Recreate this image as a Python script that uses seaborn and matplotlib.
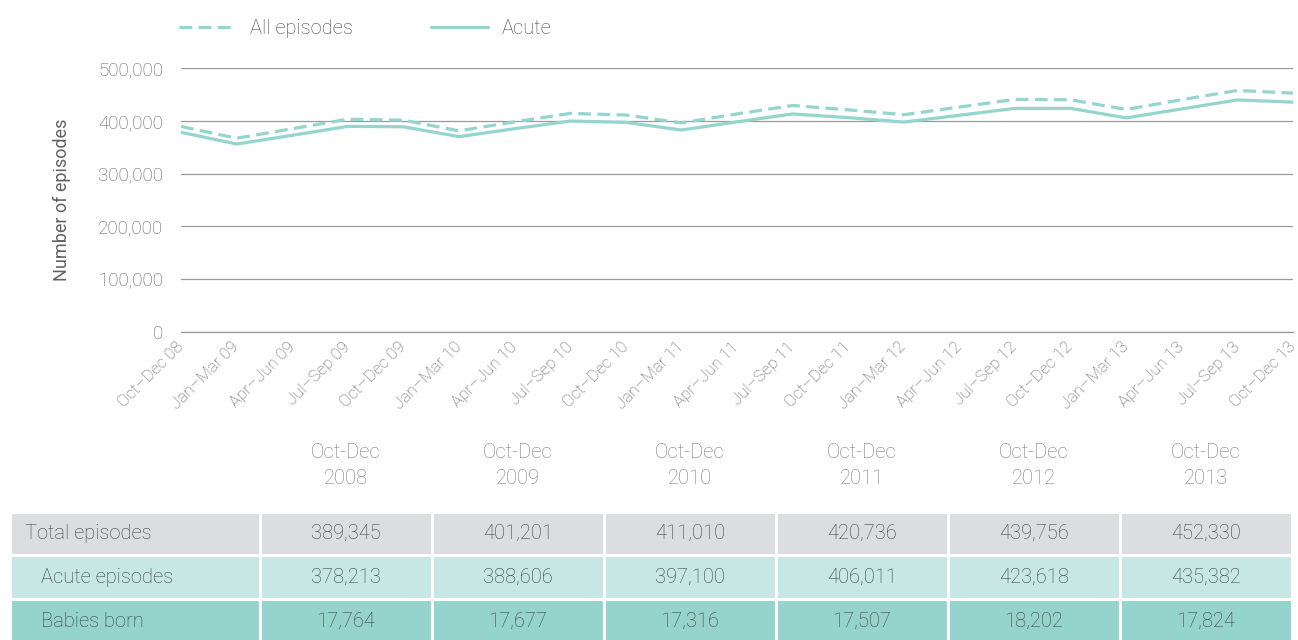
import numpy as np
import pandas as pd
import matplotlib
matplotlib.use('Agg')
import matplotlib.pyplot as plt
import seaborn as sns
from matplotlib.ticker import StrMethodFormatter

quarters = ['Oct–Dec 08', 'Jan–Mar 09', 'Apr–Jun 09', 'Jul–Sep 09', 'Oct–Dec 09',
            'Jan–Mar 10', 'Apr–Jun 10', 'Jul–Sep 10', 'Oct–Dec 10',
            'Jan–Mar 11', 'Apr–Jun 11', 'Jul–Sep 11', 'Oct–Dec 11',
            'Jan–Mar 12', 'Apr–Jun 12', 'Jul–Sep 12', 'Oct–Dec 12',
            'Jan–Mar 13', 'Apr–Jun 13', 'Jul–Sep 13', 'Oct–Dec 13']
all_episodes = [389345, 367000, 385000, 403000, 401201, 381000, 398000, 414000, 411010,
                396000, 413000, 429000, 420736, 411500, 426000, 440500, 439756,
                421500, 440000, 457500, 452330]
acute = [378213, 356000, 372500, 389500, 388606, 370000, 385000, 399500, 397100,
         382500, 398000, 413000, 406011, 397500, 410500, 423500, 423618,
         405500, 422500, 439500, 435382]

# table under the chart
table_periods = ['Oct-Dec\n2008', 'Oct-Dec\n2009', 'Oct-Dec\n2010',
                 'Oct-Dec\n2011', 'Oct-Dec\n2012', 'Oct-Dec\n2013']
row_names = ['Total episodes', 'Acute episodes', 'Babies born']
total_eps = [389345, 401201, 411010, 420736, 439756, 452330]
acute_eps = [378213, 388606, 397100, 406011, 423618, 435382]
babies = [17764, 17677, 17316, 17507, 18202, 17824]

line_col = '#94d5cd'
row_colors = ['#dcdddf', '#c6e7e3', '#94d4cd']

sns.set_style('white')
plt.rcParams['font.family'] = ['Roboto', 'DejaVu Sans']
plt.rcParams['font.weight'] = 'light'

df = pd.DataFrame({
    'quarter': quarters * 2,
    'episodes': all_episodes + acute,
    'series': ['All episodes'] * len(quarters) + ['Acute'] * len(quarters),
})

fig = plt.figure(figsize=(12.98, 6.4), dpi=100)
ax = fig.add_axes([181/1298, 1 - 332/640, 1112/1298, 264/640])

sns.lineplot(data=df, x='quarter', y='episodes', hue='series', style='series',
             hue_order=['All episodes', 'Acute'], style_order=['All episodes', 'Acute'],
             palette=[line_col, line_col], dashes={'All episodes': (4, 2), 'Acute': ''},
             linewidth=2.3, sort=False, ax=ax)

ax.set_xlim(0, len(quarters) - 1)
ax.set_ylim(0, 500000)
ax.set_yticks(range(0, 500001, 100000))
ax.yaxis.set_major_formatter(StrMethodFormatter('{x:,.0f}'))
ax.grid(axis='y', color='#9a9a9a', linewidth=0.9)
ax.set_axisbelow(True)
for s in ['top', 'right', 'left']:
    ax.spines[s].set_visible(False)
ax.spines['bottom'].set_color('#9a9a9a')
ax.spines['bottom'].set_linewidth(0.9)
ax.tick_params(axis='y', length=0, pad=13, labelsize=13.5, labelcolor='#606060')
ax.tick_params(axis='x', direction='in', length=11, width=0.9, color='#9a9a9a',
               pad=9, labelsize=12, labelcolor='#606060')
plt.setp(ax.get_xticklabels(), rotation=45, ha='right', va='center', rotation_mode='anchor')
ax.set_xlabel('')
ax.set_ylabel('Number of episodes', fontsize=13, color='#606060')
ax.yaxis.set_label_coords(-110/1112, 0.5)

leg = ax.legend(loc='center left', bbox_to_anchor=(-0.002, 1 + 39/264), ncol=2, frameon=False,
                fontsize=14.5, handlelength=2.85, handletextpad=0.7, columnspacing=3.85,
                borderaxespad=0, borderpad=0)
for t in leg.get_texts():
    t.set_color('#484848')

# table
tax = fig.add_axes([10/1298, -3/640, 1282/1298, 223/640])
tax.axis('off')
cells = [[row_names[0]] + [f'{v:,}' for v in total_eps],
         [row_names[1]] + [f'{v:,}' for v in acute_eps],
         [row_names[2]] + [f'{v:,}' for v in babies]]
widths = [250/1282] + [172/1282] * 6
tbl = tax.table(cellText=cells, colLabels=[''] + table_periods, colWidths=widths,
                cellLoc='center', bbox=[0, 0, 1, 1])
tbl.auto_set_font_size(False)
tbl.set_fontsize(14.5)
for (r, c), cell in tbl.get_celld().items():
    cell.set_edgecolor('white')
    cell.set_linewidth(2.2)
    if r == 0:
        cell.set_height(92)
        cell.set_facecolor('white')
        cell.get_text().set_color('#7a7a7a')
        cell.get_text().set_linespacing(1.45)
    else:
        cell.set_height(44)
        cell.set_facecolor(row_colors[r - 1])
        cell.get_text().set_color('#404040')
        if c == 0:
            cell.get_text().set_ha('left')
            cell.PAD = 0.06 if r == 1 else 0.124

fig.savefig('out.png', dpi=100)
